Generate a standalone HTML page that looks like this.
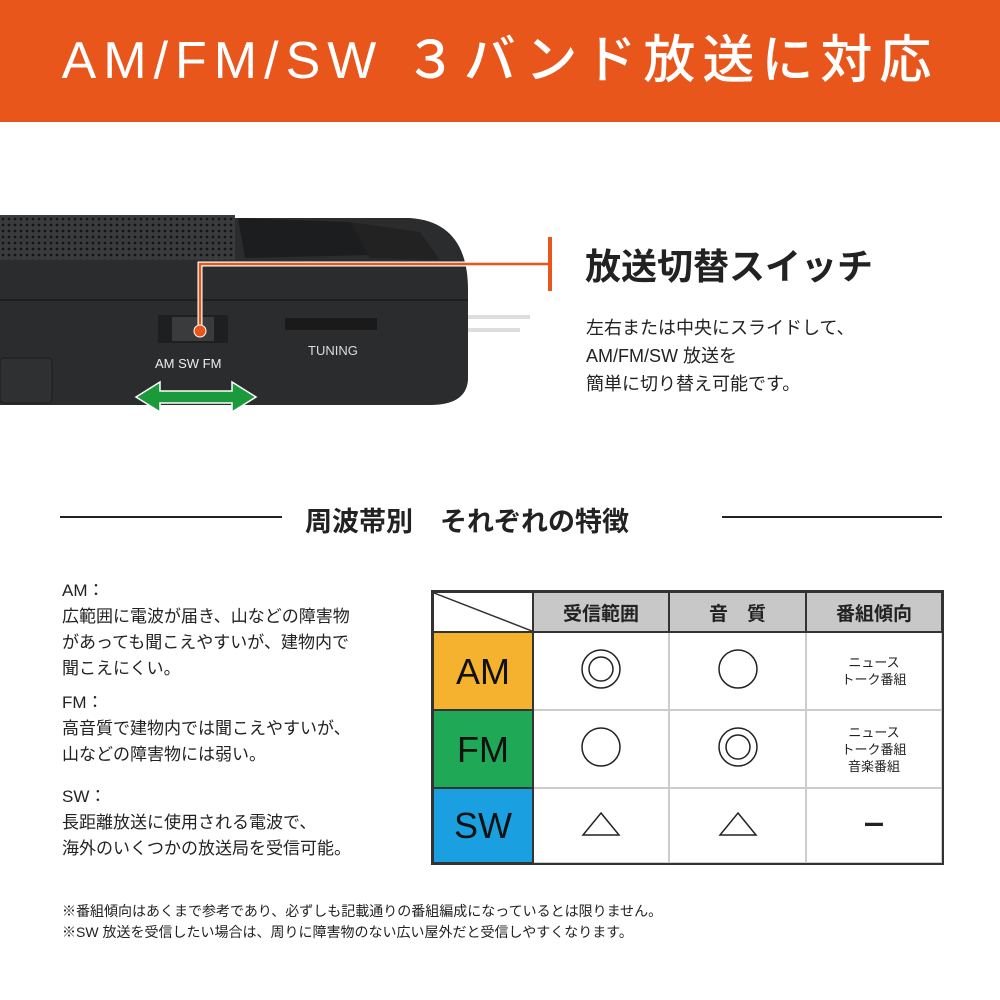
<!DOCTYPE html>
<html><head><meta charset="utf-8"><style>
*{margin:0;padding:0;box-sizing:border-box}
body{width:1000px;height:1000px;background:#fff;position:relative;overflow:hidden;font-family:"Liberation Sans","Noto Sans CJK JP",sans-serif;color:#222}
.a{position:absolute;white-space:nowrap}
.hdr{left:0;top:0;width:1000px;height:122px;background:#e8561b;color:#fff;font-size:52px;text-align:center;line-height:122px;letter-spacing:7px;font-weight:500}
table{position:absolute;left:432px;top:591px;border-collapse:collapse;width:511px;outline:2px solid #333;outline-offset:-1px}
td{border:2px solid #333;text-align:center;font-size:13px;line-height:17px}
.in td{border-color:#ccc}
th{background:#c8c8c8;border:2px solid #333;font-size:19px;font-weight:bold;height:40px;color:#222}
.in td.lab{font-size:36px;color:#111;border:2px solid #333}
</style></head><body>
<div class="a hdr">AM/FM/SW ３バンド放送に対応</div>
<svg class="a" style="left:0;top:0" width="1000" height="480">
<defs><pattern id="g" width="6" height="6" patternUnits="userSpaceOnUse"><rect width="6" height="6" fill="#3a3b3d"/><circle cx="3" cy="3" r="1.4" fill="#151515"/></pattern></defs>
<rect x="440" y="315" width="90" height="4" fill="#ddd"/><rect x="440" y="328" width="80" height="4" fill="#ddd"/>
<path d="M0 218 L410 218 Q468 222 468 290 L468 380 Q466 405 430 405 L0 405 Z" fill="#2b2c2e"/>
<rect x="0" y="215" width="235" height="45" fill="url(#g)"/>
<path d="M238 218 L350 222 L370 255 L245 258 Z" fill="#1c1d1f"/>
<path d="M350 222 L420 232 L440 260 L370 258 Z" fill="#222"/>
<path d="M0 300 L468 300" stroke="#1e1e1e" stroke-width="2"/>
<rect x="0" y="358" width="52" height="45" rx="4" fill="#2f3032" stroke="#1c1c1c"/>
<rect x="158" y="315" width="70" height="28" fill="#1e1f21"/>
<rect x="172" y="317" width="42" height="24" fill="#3a3b3d"/>
<rect x="285" y="318" width="92" height="12" fill="#1a1a1a"/>
<text x="308" y="355" fill="#ddd" font-size="13" font-family="Liberation Sans">TUNING</text>
<text x="155" y="368" fill="#eee" font-size="13" font-family="Liberation Sans">AM  SW  FM</text>
<polygon points="136,397 160,382 160,391 232,391 232,382 256,397 232,412 232,403 160,403 160,412" fill="#1a9a3a" stroke="#fff" stroke-width="1.5"/>
<polyline points="200,330 200,264 550,264" fill="none" stroke="#fff" stroke-width="5"/>
<polyline points="200,330 200,264 550,264" fill="none" stroke="#e8561b" stroke-width="2.5"/>
<circle cx="200" cy="331" r="6" fill="#e8561b" stroke="#fff" stroke-width="1"/>
<rect x="548" y="237" width="4" height="54" fill="#e8561b"/>
</svg>
<div class="a" style="left:585px;top:238px;font-size:36px;font-weight:bold;color:#222">放送切替スイッチ</div>
<div class="a" style="left:586px;top:314px;font-size:18px;line-height:28px">左右または中央にスライドして、<br>AM/FM/SW 放送を<br>簡単に切り替え可能です。</div>
<div class="a" style="left:60px;top:516px;width:222px;height:2px;background:#222"></div>
<div class="a" style="left:722px;top:516px;width:220px;height:2px;background:#222"></div>
<div class="a" style="left:305px;top:500px;font-size:27px;font-weight:bold">周波帯別　それぞれの特徴</div>
<div class="a" style="left:62px;top:578px;font-size:17px;line-height:26px">AM：<br>広範囲に電波が届き、山などの障害物<br>があっても聞こえやすいが、建物内で<br>聞こえにくい。</div>
<div class="a" style="left:62px;top:690px;font-size:17px;line-height:26px">FM：<br>高音質で建物内では聞こえやすいが、<br>山などの障害物には弱い。</div>
<div class="a" style="left:62px;top:784px;font-size:17px;line-height:26px">SW：<br>長距離放送に使用される電波で、<br>海外のいくつかの放送局を受信可能。</div>
<table>
<tr><th style="width:100px;background:#fff;position:relative"><svg width="98" height="38" style="position:absolute;left:0;top:0"><line x1="0" y1="0" x2="98" y2="38" stroke="#333" stroke-width="1.5"/></svg></th><th style="width:136px">受信範囲</th><th style="width:137px">音　質</th><th>番組傾向</th></tr>
<tr class="in" style="height:78px"><td class="lab" style="background:#f4b22e">AM</td><td><svg width="44" height="44"><circle cx="22" cy="22" r="19" fill="none" stroke="#222" stroke-width="1.5"/><circle cx="22" cy="22" r="12" fill="none" stroke="#222" stroke-width="1.5"/></svg></td><td><svg width="44" height="44"><circle cx="22" cy="22" r="19" fill="none" stroke="#222" stroke-width="1.5"/></svg></td><td>ニュース<br>トーク番組</td></tr>
<tr class="in" style="height:78px"><td class="lab" style="background:#1fa856">FM</td><td><svg width="44" height="44"><circle cx="22" cy="22" r="19" fill="none" stroke="#222" stroke-width="1.5"/></svg></td><td><svg width="44" height="44"><circle cx="22" cy="22" r="19" fill="none" stroke="#222" stroke-width="1.5"/><circle cx="22" cy="22" r="12" fill="none" stroke="#222" stroke-width="1.5"/></svg></td><td>ニュース<br>トーク番組<br>音楽番組</td></tr>
<tr class="in" style="height:75px"><td class="lab" style="background:#1aa0e0">SW</td><td><svg width="40" height="30"><polygon points="20,4 38,26 2,26" fill="none" stroke="#222" stroke-width="1.5"/></svg></td><td><svg width="40" height="30"><polygon points="20,4 38,26 2,26" fill="none" stroke="#222" stroke-width="1.5"/></svg></td><td style="font-size:22px;font-weight:bold">ー</td></tr>
</table>
<div class="a" style="left:62px;top:901px;font-size:14px;line-height:21px">※番組傾向はあくまで参考であり、必ずしも記載通りの番組編成になっているとは限りません。<br>※SW 放送を受信したい場合は、周りに障害物のない広い屋外だと受信しやすくなります。</div>
</body></html>
